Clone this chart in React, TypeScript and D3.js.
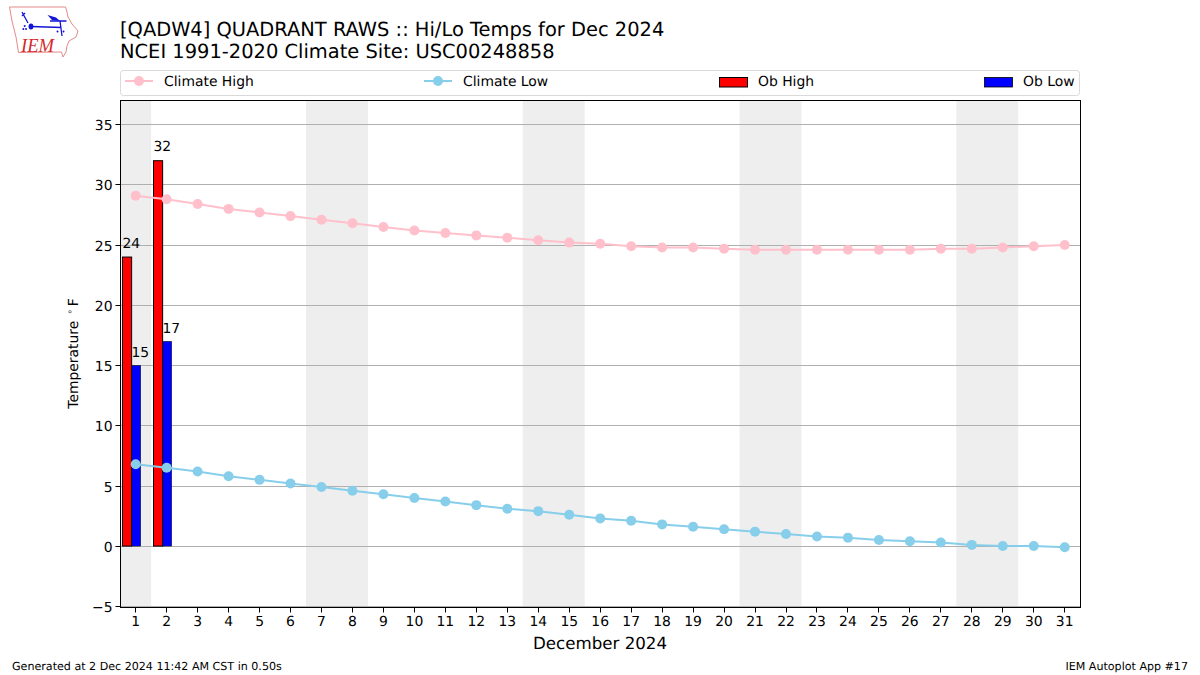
import React from "react";
import * as d3 from "d3";

const days = d3.range(1, 32);
const climateHigh = [29.1,28.8,28.4,28.0,27.7,27.4,27.1,26.8,26.5,26.2,26.0,25.8,25.6,25.4,25.2,25.1,24.9,24.8,24.8,24.7,24.6,24.6,24.6,24.6,24.6,24.6,24.7,24.7,24.8,24.9,25.0];
const climateLow = [6.8,6.5,6.2,5.8,5.5,5.2,4.9,4.6,4.3,4.0,3.7,3.4,3.1,2.9,2.6,2.3,2.1,1.8,1.6,1.4,1.2,1.0,0.8,0.7,0.5,0.4,0.3,0.1,0.0,0.0,-0.1];
const obDays = [1, 2];
const obHigh = [24, 32];
const obLow = [15, 17];
const weekendSpans = [[0.5,1.5],[6.5,8.5],[13.5,15.5],[20.5,22.5],[27.5,29.5]];
const yTicks = [-5,0,5,10,15,20,25,30,35];
const titleLines = ["[QADW4] QUADRANT RAWS :: Hi/Lo Temps for Dec 2024", "NCEI 1991-2020 Climate Site: USC00248858"];

const F = "'DejaVu Sans', sans-serif";
const L = 120.5, R = 1080.5, T = 100.5, B = 607.5;
const x = d3.scaleLinear().domain([0.5, 31.5]).range([120.2, 1080.2]);
const y = d3.scaleLinear().domain([-5.1, 37]).range([B, T]);
const crisp = (v: number) => Math.floor(v) + 0.5;
const yRow = (t: number) => Math.round(y(t) - 0.3) + 0.5;
const BW = 0.295;
const RED_OFF = -0.42;
const BLUE_OFF = -0.13;
const barW = x(BW) - x(0);

const seriesLine = d3.line<number>().x((_, i) => x(days[i])).y(d => y(d));

function Legend() {
  const cy = 82;
  return (
    <g>
      <rect x={120.5} y={70.5} width={959} height={25} rx={3} fill="#fff" stroke="#d9d9d9" />
      <line x1={125} x2={153} y1={cy-1} y2={cy-1} stroke="pink" strokeWidth={2} />
      <circle cx={139} cy={cy-1} r={5} fill="pink" />
      <text x={164} y={cy+4} fontSize={13.9} fontFamily={F}>Climate High</text>
      <line x1={424} x2={452} y1={cy-1} y2={cy-1} stroke="skyblue" strokeWidth={2} />
      <circle cx={438} cy={cy-1} r={5} fill="skyblue" />
      <text x={463} y={cy+4} fontSize={13.9} fontFamily={F}>Climate Low</text>
      <rect x={719.5} y={77.5} width={28} height={9.5} fill="red" stroke="#000" />
      <text x={758} y={cy+4} fontSize={13.9} fontFamily={F}>Ob High</text>
      <rect x={984.5} y={77.5} width={28} height={9.5} fill="blue" stroke="#000" strokeWidth={0.8} />
      <text x={1023} y={cy+4} fontSize={13.9} fontFamily={F}>Ob Low</text>
    </g>
  );
}

function Logo() {
  return (
    <g>
      <path d="M9.5 7 L65.5 7 L67 12 L68 17 L72 24 L78 31 L76 37 L69 41 L67 46 L66 52 L63 57 L61.5 52 L18.5 52.5 L16 37 L12 21 Z" fill="#fff" stroke="#e58a8a" strokeWidth={1} />
      <path d="M31 26.5 L61.5 27.5 M60 21 L62 36 M50 21 L66.5 21 M22 12 L28 23 M22 16 L25 13" stroke="#1414d8" strokeWidth={1.3} fill="none" />
      <path d="M47.5 15 L56 17.5 L60 21 L52 20 Z" fill="#1414d8" />
      <ellipse cx={31} cy={26.5} rx={2.4} ry={3} fill="#1414d8" />
      <circle cx={23.3} cy={29} r={1} fill="#1414d8" />
      <circle cx={26} cy={29} r={1} fill="#1414d8" />
      <circle cx={24.7} cy={26} r={1} fill="#1414d8" />
      <circle cx={57.5} cy={31.5} r={1} fill="#1414d8" />
      <circle cx={63.5} cy={31.5} r={1} fill="#1414d8" />
      <text x={21} y={51.5} fontSize={20} textLength={33} lengthAdjust="spacingAndGlyphs" fontStyle="italic" fontFamily="'Liberation Serif', serif" fill="#d42a2a">IEM</text>
    </g>
  );
}

export default function App() {
  return (
    <svg width={1200} height={675} style={{ position: "absolute", left: 0, top: 0, background: "#fff" }} textRendering="geometricPrecision">
      <Logo />
      {titleLines.map((t, i) => (
        <text key={t} x={120} y={36 + i * 22} fontSize={19.44} fontFamily={F} fill="#000">{t}</text>
      ))}
      <Legend />
      {weekendSpans.map(s => (
        <rect key={s[0]} x={x(s[0])} y={T} width={x(s[1]) - x(s[0])} height={B - T - 1} fill="#eeeeee" />
      ))}
      {yTicks.map(t => (
        <g key={t}>
          <line x1={L} x2={R} y1={yRow(t)} y2={yRow(t)} stroke="#b0b0b0" strokeWidth={1} />
          <line x1={L - 5} x2={L} y1={yRow(t)} y2={yRow(t)} stroke="#000" />
          <text x={L - 8} y={yRow(t) + 5} textAnchor="end" fontSize={13.9} fontFamily={F}>{t < 0 ? `\u2212${-t}` : t}</text>
        </g>
      ))}
      {obDays.map((d, i) => (
        <g key={d}>
          <rect x={crisp(x(d + BLUE_OFF))} y={y(obLow[i])} width={barW} height={y(0) - y(obLow[i])} fill="blue" stroke="#000" strokeWidth={0.5} />
          <rect x={crisp(x(d + RED_OFF))} y={y(obHigh[i])} width={barW} height={y(0) - y(obHigh[i])} fill="red" stroke="#000" strokeWidth={1} />
        </g>
      ))}
      <path d={seriesLine(climateHigh) ?? ""} fill="none" stroke="pink" strokeWidth={2} />
      {climateHigh.map((v, i) => <circle key={i} cx={x(days[i])} cy={y(v)} r={5} fill="pink" />)}
      <path d={seriesLine(climateLow) ?? ""} fill="none" stroke="skyblue" strokeWidth={2} />
      {climateLow.map((v, i) => <circle key={i} cx={x(days[i])} cy={y(v)} r={5} fill="skyblue" />)}
      {obDays.map((d, i) => (
        <g key={d}>
          <text x={crisp(x(d + RED_OFF))} y={y(obHigh[i]) - 9.5} fontSize={13.9} fontFamily={F}>{obHigh[i]}</text>
          <text x={crisp(x(d + BLUE_OFF))} y={y(obLow[i]) - 8.8} fontSize={13.9} fontFamily={F}>{obLow[i]}</text>
        </g>
      ))}
      <rect x={L} y={T} width={R - L} height={B - T} fill="none" stroke="#000" strokeWidth={1} />
      {days.map(d => (
        <g key={d}>
          <line x1={crisp(x(d))} x2={crisp(x(d))} y1={B} y2={B + 5} stroke="#000" />
          <text x={x(d)} y={626} textAnchor="middle" fontSize={13.9} fontFamily={F}>{d}</text>
        </g>
      ))}
      <text x={600} y={649} textAnchor="middle" fontSize={16.67} fontFamily={F}>December 2024</text>
      <text transform={`translate(78,353.5) rotate(-90)`} textAnchor="middle" fontSize={13.9} fontFamily={F}>
        Temperature <tspan fontSize={9.7} dx={1.5} dy={-5} fill="#333">∘</tspan><tspan dx={2.5} dy={5}>F</tspan>
      </text>
      <text x={12} y={670} fontSize={11.1} fontFamily={F}>Generated at 2 Dec 2024 11:42 AM CST in 0.50s</text>
      <text x={1188} y={670} textAnchor="end" fontSize={11.1} fontFamily={F}>IEM Autoplot App #17</text>
    </svg>
  );
}
